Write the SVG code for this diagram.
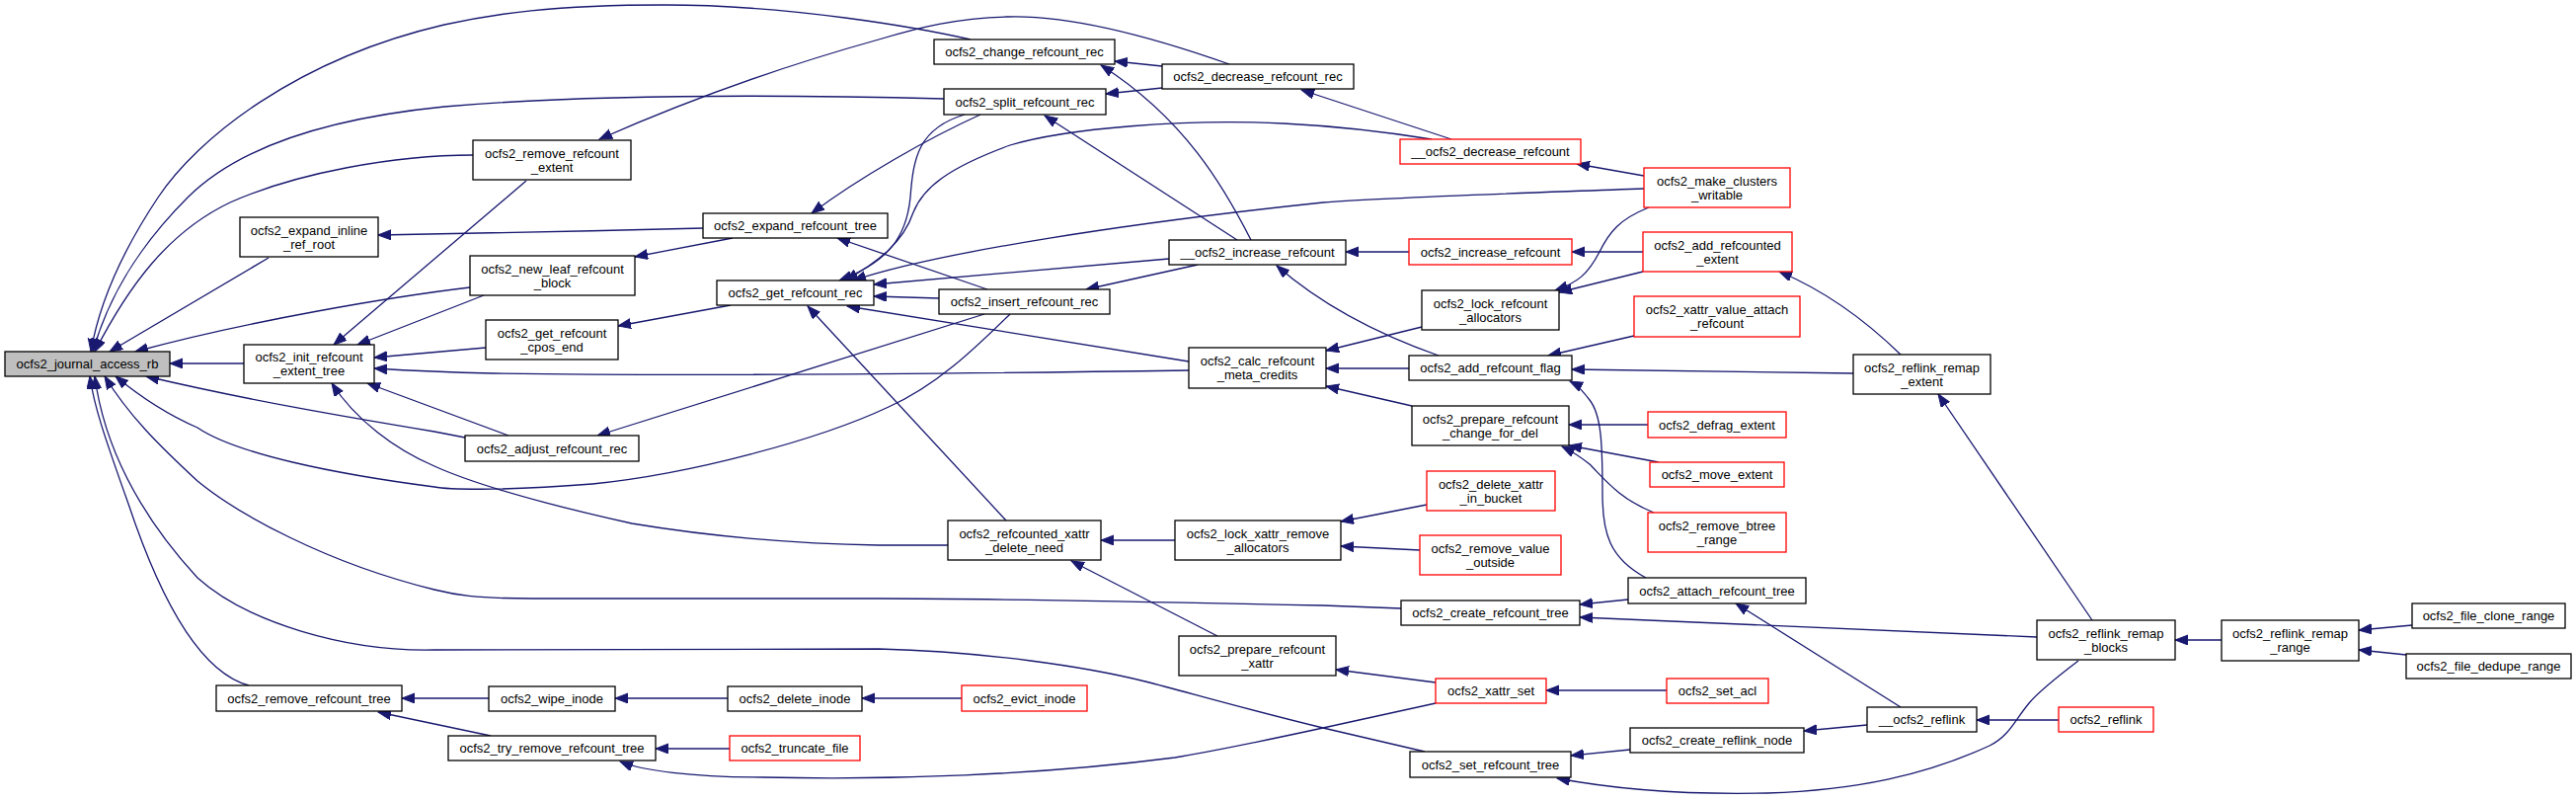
<svg xmlns="http://www.w3.org/2000/svg" width="2609" height="811" viewBox="0 0 2609 811">
<style>
.n rect{fill:#fff;stroke:#000;stroke-width:1.3}
.r rect{fill:#fff;stroke:#ff0000;stroke-width:1.3}
.g rect{fill:#bfbfbf;stroke:#000;stroke-width:1.3}
text{font-family:"Liberation Sans",Arial,Helvetica,sans-serif;font-size:13px;fill:#000;text-anchor:middle}
#edges path{fill:none;stroke:#191970;stroke-width:1.3;marker-end:url(#ah)}
</style>
<defs>
<marker id="ah" markerUnits="userSpaceOnUse" markerWidth="14" markerHeight="11" refX="13" refY="5" orient="auto">
<path d="M0,0 L13,5 L0,10 z" fill="#191970" stroke="#191970" stroke-width="1"/>
</marker>
</defs>
<rect width="2609" height="811" fill="#fff"/>
<g id="edges">
<path d="M983,40 C930,28 800,5 673,5 C560,5 500,14 450,25 C300,60 200,140 160,200 C120,260 100,310 92,356"/>
<path d="M956,100 C800,96 600,95 450,108 C330,120 240,150 190,200 C140,250 110,300 94,356"/>
<path d="M479,157 C400,157 300,175 233,205 C170,235 130,290 96,356"/>
<path d="M272,261 L111,356"/>
<path d="M476,291 C400,300 250,325 137,356"/>
<path d="M247,368 L172,368"/>
<path d="M252,694 C200,680 160,600 130,510 C105,440 95,410 91,381"/>
<path d="M1443,761 L1340,737 C1250,715 1200,700 1160,690 C1100,675 1000,660 890,657 L440,658 C350,660 250,630 200,585 C140,520 105,450 96,381"/>
<path d="M1419,616 L1340,613 C1200,610 1000,606 890,606 L540,606 C480,606 460,602 440,597 C330,570 240,520 200,487 C160,450 130,420 106,381"/>
<path d="M1023,318 C990,350 950,390 900,412 C830,445 700,480 600,490 C500,498 450,495 440,493 C340,480 240,460 200,433 C170,420 140,400 117,381"/>
<path d="M471,443 L440,437 C350,422 250,405 148,381"/>
<path d="M960,552 L890,552 C780,550 700,540 640,530 C550,510 480,490 440,472 C400,455 360,425 336,388"/>
<path d="M515,441 L372,388"/>
<path d="M492,352 L379,362"/>
<path d="M1204,375 C1000,378 700,381 500,378 C450,377 410,375 379,373"/>
<path d="M533,183 L338,349"/>
<path d="M490,299 L362,349"/>
<path d="M712,231 C600,234 450,237 383,238"/>
<path d="M742,241 L643,260"/>
<path d="M740,309 L626,330"/>
<path d="M993,116 C940,140 870,180 822,216"/>
<path d="M1000,293 L848,241"/>
<path d="M977,116 C930,130 925,160 922,200 C918,240 900,265 850,284"/>
<path d="M1450,141 C1400,133 1360,128 1300,125 C1200,120 1080,130 1023,147 C960,170 935,190 925,215 C915,245 890,265 856,284"/>
<path d="M1665,191 C1500,197 1400,200 1340,205 C1150,225 950,255 864,284"/>
<path d="M1184,262 L885,288"/>
<path d="M951,302 L885,300"/>
<path d="M1204,366 L858,310"/>
<path d="M1019,527 L818,310"/>
<path d="M997,318 L605,441"/>
<path d="M1177,67 L1129,62"/>
<path d="M1177,89 L1120,95"/>
<path d="M1267,243 C1240,190 1200,120 1115,66"/>
<path d="M1253,243 L1058,117"/>
<path d="M1213,268 L1100,293"/>
<path d="M1457,360 C1400,340 1340,310 1293,269"/>
<path d="M1470,141 L1318,91"/>
<path d="M1440,331 L1343,355"/>
<path d="M1427,373 L1343,373"/>
<path d="M1430,411 L1343,391"/>
<path d="M1427,255 L1363,255"/>
<path d="M1665,178 L1597,166"/>
<path d="M1664,255 L1592,255"/>
<path d="M1670,210 C1640,222 1630,235 1620,255 C1608,278 1598,286 1575,294"/>
<path d="M1664,275 L1579,296"/>
<path d="M1655,340 L1568,360"/>
<path d="M1877,378 L1592,374"/>
<path d="M1667,585 C1630,565 1623,540 1623,500 C1623,450 1622,420 1610,405 C1603,396 1598,390 1590,386"/>
<path d="M1669,430 L1589,430"/>
<path d="M1680,468 L1589,451"/>
<path d="M1675,519 C1640,505 1625,485 1610,470 C1600,462 1592,457 1582,452"/>
<path d="M1445,511 L1358,528"/>
<path d="M1438,557 L1358,553"/>
<path d="M1649,607 L1600,612"/>
<path d="M2063,645 L1600,625"/>
<path d="M1925,716 L1758,611"/>
<path d="M1454,691 L1353,678"/>
<path d="M1454,712 L1340,737 C1280,750 1220,762 1190,767 C1050,785 900,790 773,787 C700,787 650,780 628,771"/>
<path d="M1688,699 L1566,699"/>
<path d="M1651,759 L1591,765"/>
<path d="M2105,669 C2080,688 2065,700 2055,712 C2040,730 2035,745 2015,755 C1950,785 1880,800 1790,803 C1700,805 1630,798 1577,788"/>
<path d="M2119,628 L1963,399"/>
<path d="M1891,734 L1827,740"/>
<path d="M2085,729 L2002,729"/>
<path d="M2250,648 L2203,648"/>
<path d="M1925,359 C1890,325 1850,295 1802,275"/>
<path d="M737,707 L623,707"/>
<path d="M739,758 L664,758"/>
<path d="M495,707 L407,707"/>
<path d="M497,745 L383,721"/>
<path d="M974,707 L873,707"/>
<path d="M1190,547 L1115,547"/>
<path d="M1233,644 L1085,568"/>
<path d="M2443,633 L2389,638"/>
<path d="M2437,663 L2389,658"/>
<path d="M1245,65 C1160,35 1080,15 1020,17 C970,18 930,28 890,40 C800,65 700,100 607,141"/>
</g>
<g id="n1" class="g"><rect x="5" y="356" width="167" height="25"/><text x="88.5" y="373">ocfs2_journal_access_rb</text></g>
<g id="n2" class="n"><rect x="243" y="220" width="140" height="40"/><text x="313" y="237.5">ocfs2_expand_inline</text><text x="313" y="251.5">_ref_root</text></g>
<g id="n3" class="n"><rect x="247" y="349" width="132" height="39"/><text x="313" y="366">ocfs2_init_refcount</text><text x="313" y="380">_extent_tree</text></g>
<g id="n4" class="n"><rect x="219" y="694" width="188" height="26"/><text x="313" y="711.5">ocfs2_remove_refcount_tree</text></g>
<g id="n5" class="n"><rect x="479" y="142" width="160" height="40"/><text x="559" y="159.5">ocfs2_remove_refcount</text><text x="559" y="173.5">_extent</text></g>
<g id="n6" class="n"><rect x="712" y="216" width="187" height="25"/><text x="805.5" y="233">ocfs2_expand_refcount_tree</text></g>
<g id="n7" class="n"><rect x="476" y="259" width="167" height="40"/><text x="559.5" y="276.5">ocfs2_new_leaf_refcount</text><text x="559.5" y="290.5">_block</text></g>
<g id="n8" class="n"><rect x="726" y="284" width="159" height="25"/><text x="805.5" y="301">ocfs2_get_refcount_rec</text></g>
<g id="n9" class="n"><rect x="492" y="324" width="134" height="40"/><text x="559" y="341.5">ocfs2_get_refcount</text><text x="559" y="355.5">_cpos_end</text></g>
<g id="n10" class="n"><rect x="471" y="441" width="176" height="26"/><text x="559" y="458.5">ocfs2_adjust_refcount_rec</text></g>
<g id="n11" class="n"><rect x="495" y="695" width="128" height="25"/><text x="559" y="712">ocfs2_wipe_inode</text></g>
<g id="n12" class="n"><rect x="737" y="695" width="136" height="25"/><text x="805" y="712">ocfs2_delete_inode</text></g>
<g id="n13" class="n"><rect x="454" y="745" width="210" height="25"/><text x="559" y="762">ocfs2_try_remove_refcount_tree</text></g>
<g id="n14" class="r"><rect x="739" y="745" width="132" height="25"/><text x="805" y="762">ocfs2_truncate_file</text></g>
<g id="n15" class="n"><rect x="946" y="40" width="183" height="25"/><text x="1037.5" y="57">ocfs2_change_refcount_rec</text></g>
<g id="n16" class="n"><rect x="1177" y="65" width="194" height="25"/><text x="1274" y="82">ocfs2_decrease_refcount_rec</text></g>
<g id="n17" class="n"><rect x="956" y="90" width="164" height="26"/><text x="1038" y="107.5">ocfs2_split_refcount_rec</text></g>
<g id="n18" class="n"><rect x="1184" y="243" width="179" height="25"/><text x="1273.5" y="260">__ocfs2_increase_refcount</text></g>
<g id="n19" class="n"><rect x="951" y="293" width="173" height="25"/><text x="1037.5" y="310">ocfs2_insert_refcount_rec</text></g>
<g id="n20" class="n"><rect x="1204" y="352" width="139" height="41"/><text x="1273.5" y="370">ocfs2_calc_refcount</text><text x="1273.5" y="384">_meta_credits</text></g>
<g id="n21" class="n"><rect x="960" y="527" width="155" height="40"/><text x="1037.5" y="544.5">ocfs2_refcounted_xattr</text><text x="1037.5" y="558.5">_delete_need</text></g>
<g id="n22" class="n"><rect x="1190" y="527" width="168" height="40"/><text x="1274" y="544.5">ocfs2_lock_xattr_remove</text><text x="1274" y="558.5">_allocators</text></g>
<g id="n23" class="n"><rect x="1194" y="644" width="159" height="40"/><text x="1273.5" y="661.5">ocfs2_prepare_refcount</text><text x="1273.5" y="675.5">_xattr</text></g>
<g id="n24" class="r"><rect x="974" y="694" width="127" height="26"/><text x="1037.5" y="711.5">ocfs2_evict_inode</text></g>
<g id="n25" class="r"><rect x="1418" y="141" width="183" height="25"/><text x="1509.5" y="158">__ocfs2_decrease_refcount</text></g>
<g id="n26" class="r"><rect x="1665" y="170" width="148" height="40"/><text x="1739" y="187.5">ocfs2_make_clusters</text><text x="1739" y="201.5">_writable</text></g>
<g id="n27" class="r"><rect x="1427" y="242" width="165" height="26"/><text x="1509.5" y="259.5">ocfs2_increase_refcount</text></g>
<g id="n28" class="r"><rect x="1664" y="235" width="151" height="40"/><text x="1739.5" y="252.5">ocfs2_add_refcounted</text><text x="1739.5" y="266.5">_extent</text></g>
<g id="n29" class="n"><rect x="1440" y="294" width="139" height="40"/><text x="1509.5" y="311.5">ocfs2_lock_refcount</text><text x="1509.5" y="325.5">_allocators</text></g>
<g id="n30" class="r"><rect x="1655" y="300" width="168" height="41"/><text x="1739" y="318">ocfs2_xattr_value_attach</text><text x="1739" y="332">_refcount</text></g>
<g id="n31" class="n"><rect x="1427" y="360" width="165" height="25"/><text x="1509.5" y="377">ocfs2_add_refcount_flag</text></g>
<g id="n32" class="n"><rect x="1430" y="411" width="159" height="40"/><text x="1509.5" y="428.5">ocfs2_prepare_refcount</text><text x="1509.5" y="442.5">_change_for_del</text></g>
<g id="n33" class="r"><rect x="1669" y="417" width="140" height="26"/><text x="1739" y="434.5">ocfs2_defrag_extent</text></g>
<g id="n34" class="r"><rect x="1671" y="468" width="136" height="25"/><text x="1739" y="485">ocfs2_move_extent</text></g>
<g id="n35" class="r"><rect x="1445" y="477" width="130" height="40"/><text x="1510" y="494.5">ocfs2_delete_xattr</text><text x="1510" y="508.5">_in_bucket</text></g>
<g id="n36" class="r"><rect x="1438" y="542" width="143" height="40"/><text x="1509.5" y="559.5">ocfs2_remove_value</text><text x="1509.5" y="573.5">_outside</text></g>
<g id="n37" class="r"><rect x="1669" y="519" width="140" height="40"/><text x="1739" y="536.5">ocfs2_remove_btree</text><text x="1739" y="550.5">_range</text></g>
<g id="n38" class="n"><rect x="1649" y="585" width="180" height="26"/><text x="1739" y="602.5">ocfs2_attach_refcount_tree</text></g>
<g id="n39" class="n"><rect x="1419" y="608" width="181" height="25"/><text x="1509.5" y="625">ocfs2_create_refcount_tree</text></g>
<g id="n40" class="r"><rect x="1454" y="687" width="112" height="25"/><text x="1510" y="704">ocfs2_xattr_set</text></g>
<g id="n41" class="r"><rect x="1688" y="687" width="103" height="25"/><text x="1739.5" y="704">ocfs2_set_acl</text></g>
<g id="n42" class="n"><rect x="1651" y="737" width="176" height="25"/><text x="1739" y="754">ocfs2_create_reflink_node</text></g>
<g id="n43" class="n"><rect x="1428" y="761" width="163" height="26"/><text x="1509.5" y="778.5">ocfs2_set_refcount_tree</text></g>
<g id="n44" class="n"><rect x="1877" y="359" width="139" height="40"/><text x="1946.5" y="376.5">ocfs2_reflink_remap</text><text x="1946.5" y="390.5">_extent</text></g>
<g id="n45" class="n"><rect x="2063" y="628" width="140" height="40"/><text x="2133" y="645.5">ocfs2_reflink_remap</text><text x="2133" y="659.5">_blocks</text></g>
<g id="n46" class="n"><rect x="1891" y="716" width="111" height="25"/><text x="1946.5" y="733">__ocfs2_reflink</text></g>
<g id="n47" class="r"><rect x="2085" y="716" width="96" height="25"/><text x="2133" y="733">ocfs2_reflink</text></g>
<g id="n48" class="n"><rect x="2250" y="628" width="139" height="41"/><text x="2319.5" y="646">ocfs2_reflink_remap</text><text x="2319.5" y="660">_range</text></g>
<g id="n49" class="n"><rect x="2443" y="611" width="155" height="25"/><text x="2520.5" y="628">ocfs2_file_clone_range</text></g>
<g id="n50" class="n"><rect x="2437" y="662" width="167" height="25"/><text x="2520.5" y="679">ocfs2_file_dedupe_range</text></g>
</svg>
